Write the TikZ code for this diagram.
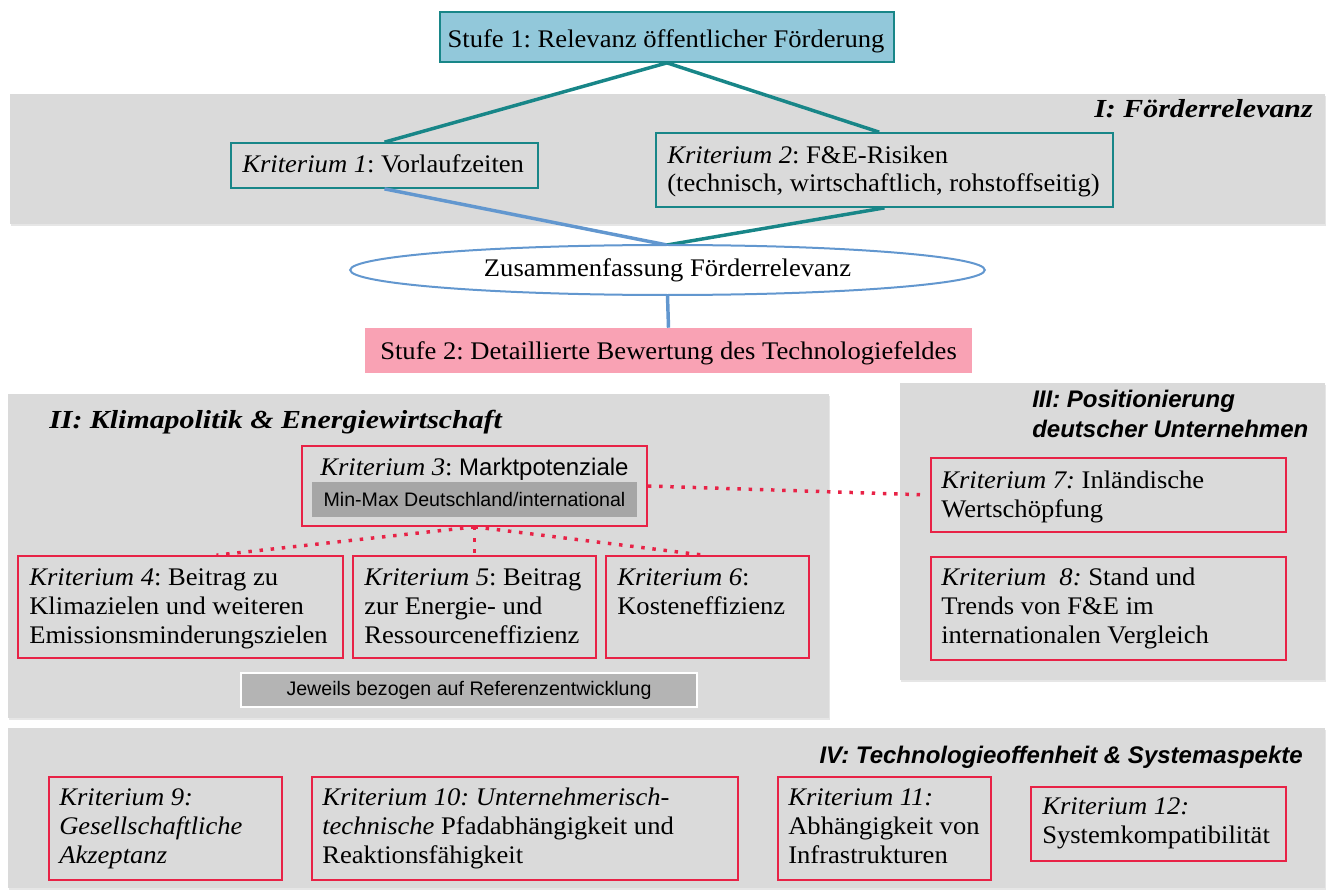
\documentclass[tikz,border=0pt]{standalone}
\usepackage{fontspec}
\setmainfont[FakeStretch=1.05]{Liberation Serif}
\setsansfont{Liberation Sans}
\newfontfamily\hdserif[FakeStretch=1.15]{Liberation Serif}
\usetikzlibrary{shapes.geometric,fit,shadows}
\definecolor{kteal}{RGB}{24,134,136}
\definecolor{kblue}{RGB}{98,151,207}
\definecolor{kred}{RGB}{232,34,70}
\definecolor{kband}{RGB}{218,218,218}
\definecolor{kstufe}{RGB}{146,200,218}
\definecolor{kpink}{RGB}{249,162,180}
\definecolor{kgrey}{RGB}{166,166,166}
\definecolor{kgreyb}{RGB}{180,180,180}
\newcommand{\kfont}{\fontsize{19}{21.4}\selectfont}
\frenchspacing

\begin{document}
\begin{tikzpicture}[x=0.75pt,y=-0.75pt,
	band/.style={fill=kband,inner sep=0pt,drop shadow={shadow xshift=1pt,shadow yshift=-1.5pt,opacity=0.2}},
	kbox/.style={draw=kred,line width=1.3pt,inner sep=0pt},
	tbox/.style={draw=kteal,line width=1.3pt,inner sep=0pt},
	ktxt/.style={anchor=base west,inner sep=0pt,align=left,font=\kfont},
	tealline/.style={draw=kteal,line width=2.6pt},
	blueline/.style={draw=kblue,line width=2.6pt},
	reddots/.style={draw=kred,line width=2.6pt,dash pattern=on 2.6pt off 5.8pt},
	grp/.style={font=\hdserif\bfseries\itshape\fontsize{19.5}{23}\selectfont,inner sep=0pt},
	grpsf/.style={font=\sffamily\bfseries\itshape\fontsize{18}{21.8}\selectfont,inner sep=0pt,align=left},
	note/.style={inner sep=0pt,font=\sffamily\fontsize{14.7}{17}\selectfont}]
	\useasboundingbox (0,0) rectangle (1327,891);

	% text nodes: y = baseline of the last line
	\node[band,fit={(10,94) (1325,224)}] (b1) {};
	\node[band,fit={(8,394) (829,718)}] (b2) {};
	\node[band,fit={(900,383) (1325,680)}] (b3) {};
	\node[band,fit={(8,728) (1325,888)}] (b4) {};
	\node[grp,anchor=base east] (l1) at (1313,118) {I: Förderrelevanz};
	\node[grp,anchor=base west] (l2) at (49,428) {II: Klimapolitik \& Energiewirtschaft};
	\node[grpsf,anchor=base west] (l3) at (1032,437) {III: Positionierung\\deutscher Unternehmen};
	\node[grpsf,anchor=base east] (l4) at (1303,763) {IV: Technologieoffenheit \& Systemaspekte};

	\node[fit={(440,12) (894,62)},fill=kstufe,draw=kteal,line width=1.3pt,inner sep=0pt] (s1) {};
	\node[ktxt,anchor=base] (s1t) at (666,48) {Stufe 1: Relevanz öffentlicher Förderung};
	\node[tbox,fit={(231,143) (538,188)}] (k1) {};
	\node[ktxt] (k1t) at (242,173) {\textit{Kriterium 1}: Vorlaufzeiten};
	\node[tbox,fit={(656,133) (1113,207)}] (k2) {};
	\node[ktxt] (k2t) at (667,192) {\textit{Kriterium 2}: F\&E-Risiken\\(technisch, wirtschaftlich, rohstoffseitig)};
	\coordinate (zn) at (667,245);
	\draw[tealline] (s1.south) -- (k1.north);
	\draw[tealline] (s1.south) -- ([xshift=-4pt]k2.north);
	\draw[blueline] (k1.south) -- (zn);
	\draw[tealline] (k2.south) -- (zn);
	\node[ellipse,draw=kblue,fill=white,line width=1.5pt,minimum width=476pt,minimum height=37.5pt,inner sep=0pt,font=\kfont] (zf) at (667.5,270) {Zusammenfassung Förderrelevanz};
	\node[fit={(365,328) (972,373)},fill=kpink,inner sep=0pt] (s2) {};
	\node[ktxt] (s2t) at (380,359) {Stufe 2: Detaillierte Bewertung des Technologiefeldes};
	\draw[blueline] (zf.south) -- (s2.north);

	\node[kbox,fit={(302,446) (647,526)}] (k3) {};
	\node[ktxt] (k3t) at (320,475) {\textit{Kriterium 3}: {\sffamily\fontsize{18}{21}\selectfont Marktpotenziale}};
	\node[note,fill=kgrey,fit={(312,482) (637,517)}] (mm) {};
	\node[note] (mmt) at (mm.center) {Min-Max Deutschland/international};
	\node[kbox,fit={(18,556) (343,658)}] (k4) {};
	\node[ktxt] (k4t) at (29,643) {\textit{Kriterium 4}: Beitrag zu\\Klimazielen und weiteren\\Emissionsminderungszielen};
	\node[kbox,fit={(353,556) (596,658)}] (k5) {};
	\node[ktxt] (k5t) at (364,643) {\textit{Kriterium 5}: Beitrag\\zur Energie- und\\Ressourceneffizienz};
	\node[kbox,fit={(606,556) (809,658)}] (k6) {};
	\node[ktxt] (k6t) at (617,614) {\textit{Kriterium 6}:\\Kosteneffizienz};
	\node[note,fill=kgreyb,draw=white,line width=1.5pt,fit={(241,673) (697,707)}] (rf) {};
	\node[note] (rft) at (rf.center) {Jeweils bezogen auf Referenzentwicklung};
	\draw[reddots] (k3.south) -- ([xshift=27pt]k4.north);
	\draw[reddots] (k3.south) -- (k5.north);
	\draw[reddots] (k3.south) -- ([xshift=-3pt]k6.north);

	\node[kbox,fit={(931,458) (1286,532)}] (k7) {};
	\node[ktxt] (k7t) at (941,517) {\textit{Kriterium 7:} Inländische\\Wertschöpfung};
	\node[kbox,fit={(931,557) (1286,660)}] (k8) {};
	\node[ktxt] (k8t) at (941,643) {\textit{Kriterium\ \ 8:} Stand und\\Trends von F\&E im\\internationalen Vergleich};
	\draw[reddots,shorten >=7pt] (k3.east) -- (k7.west);

	\node[kbox,fit={(49,777) (282,880)}] (k9) {};
	\node[ktxt] (k9t) at (59,863) {\textit{Kriterium 9:}\\\textit{Gesellschaftliche}\\\textit{Akzeptanz}};
	\node[kbox,fit={(312,777) (738,880)}] (k10) {};
	\node[ktxt] (k10t) at (322,863) {\textit{Kriterium 10: Unternehmerisch-}\\\textit{technische} Pfadabhängigkeit und\\Reaktionsfähigkeit};
	\node[kbox,fit={(778,777) (991,880)}] (k11) {};
	\node[ktxt] (k11t) at (788,863) {\textit{Kriterium 11:}\\Abhängigkeit von\\Infrastrukturen};
	\node[kbox,fit={(1031,787) (1286,861)}] (k12) {};
	\node[ktxt] (k12t) at (1042,843) {\textit{Kriterium 12:}\\Systemkompatibilität};
\end{tikzpicture}
\end{document}
